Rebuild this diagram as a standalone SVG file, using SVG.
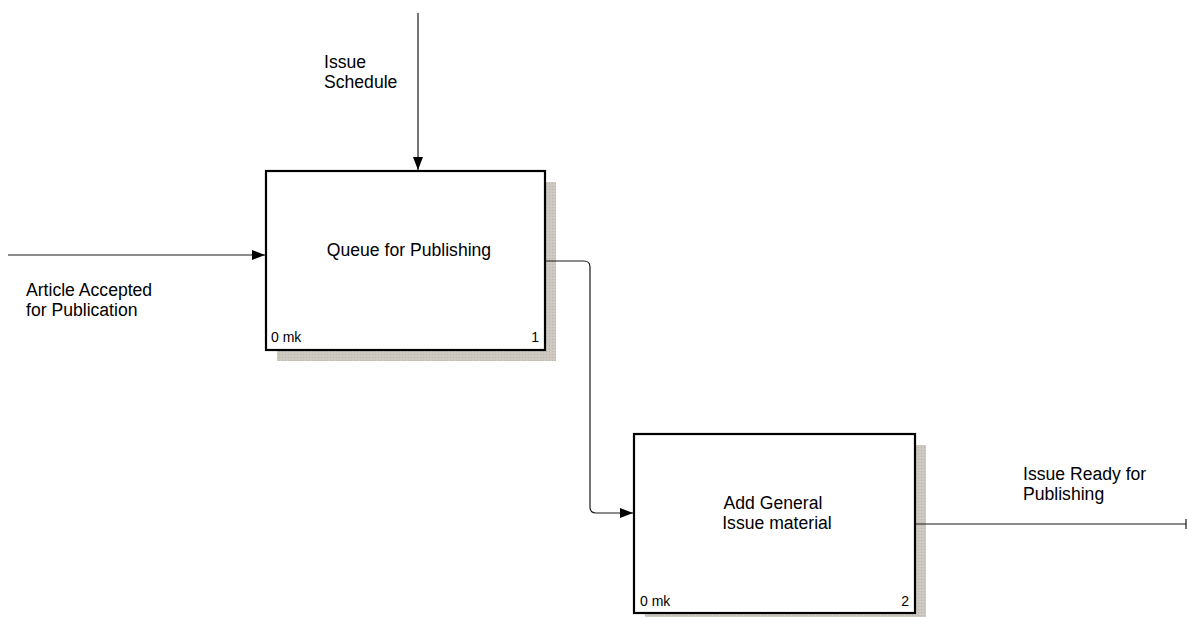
<svg xmlns="http://www.w3.org/2000/svg" width="1187" height="617" viewBox="0 0 1187 617">
  <defs>
    <marker id="arrow" viewBox="0 0 13 10" refX="13" refY="5" markerWidth="13" markerHeight="10" markerUnits="userSpaceOnUse" orient="auto">
      <path d="M0,0 L13,5 L0,10 z" fill="#000"/>
    </marker>
    <pattern id="hatch" width="3" height="3" patternUnits="userSpaceOnUse">
      <rect width="3" height="3" fill="#cdc9c1"/>
      <rect width="1" height="1" fill="#b9b5ad"/>
    </pattern>
  </defs>
  <style>
    .shadow { fill: url(#hatch); stroke: none; }
    .box { fill: #ffffff; stroke: #000; stroke-width: 2.2; }
    .title { font-family: "Liberation Sans", Arial, sans-serif; font-size: 17.6px; fill: #000; }
    .small { font-family: "Liberation Sans", Arial, sans-serif; font-size: 14px; fill: #000; }
    .label { font-family: "Liberation Sans", Arial, sans-serif; font-size: 17.6px; fill: #000; }
    .wire { fill: none; stroke: #1a1a1a; stroke-width: 1.2; }
  </style>
  <rect width="1187" height="617" fill="#ffffff"/>

  <!-- activity A1 -->
  <g id="node-queue">
    <rect class="shadow" x="277" y="182" width="279" height="179"/>
    <rect class="box" x="266" y="171" width="279" height="179"/>
    <text class="title" x="409" y="256" text-anchor="middle">Queue for Publishing</text>
    <text class="small" x="271" y="342">0 mk</text>
    <text class="small" x="539" y="342" text-anchor="end">1</text>
  </g>

  <!-- activity A2 -->
  <g id="node-add-material">
    <rect class="shadow" x="645" y="445" width="281" height="179"/>
    <rect class="box" x="634" y="434" width="281" height="179"/>
    <text class="title" x="773" y="509" text-anchor="middle">Add General</text>
    <text class="title" x="777" y="529" text-anchor="middle">Issue material</text>
    <text class="small" x="640" y="606">0 mk</text>
    <text class="small" x="909" y="606" text-anchor="end">2</text>
  </g>

  <!-- arrows between and around activities -->
  <g id="connectors">
    <path class="wire" d="M8,255 H265" marker-end="url(#arrow)"/>
    <path class="wire" d="M418,13 V170" marker-end="url(#arrow)"/>
    <path class="wire" d="M546,261 H584 Q590,261 590,267 V507 Q590,513 596,513 H633" marker-end="url(#arrow)"/>
    <path class="wire" d="M916,524 H1186"/>
    <path class="wire" d="M1186,519 V529"/>
  </g>

  <!-- arrow labels -->
  <g id="labels">
    <text class="label" x="26" y="296">Article Accepted</text>
    <text class="label" x="26" y="316">for Publication</text>
    <text class="label" x="324" y="68">Issue</text>
    <text class="label" x="324" y="88">Schedule</text>
    <text class="label" x="1023" y="480">Issue Ready for</text>
    <text class="label" x="1023" y="500">Publishing</text>
  </g>
</svg>
